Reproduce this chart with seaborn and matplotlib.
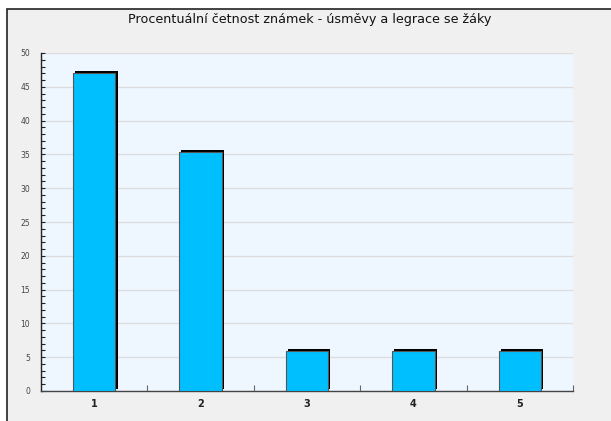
import matplotlib
matplotlib.use("Agg")
import matplotlib.pyplot as plt
import matplotlib.patheffects as pe
from matplotlib.patches import Rectangle
from matplotlib.ticker import MultipleLocator, FixedLocator, NullFormatter
import seaborn as sns
import pandas as pd

categories = ["1", "2", "3", "4", "5"]
values = [47.06, 35.29, 5.88, 5.88, 5.88]
title = "Procentuální četnost známek - úsměvy a legrace se žáky"

sns.set_style("white")
plt.rcParams['font.family'] = ['DejaVu Sans']

df = pd.DataFrame({"znamka": categories, "procenta": values})

fig = plt.figure(figsize=(6.11, 4.21), dpi=100)
fig.patch.set_facecolor("white")
# frame panel
fig.patches.append(Rectangle((7/611, -0.01), 1.0, 1 - 9/421 + 0.01, transform=fig.transFigure,
                             facecolor="#f0f0f0", edgecolor="#222222", linewidth=1.2, zorder=-5))

ax = fig.add_axes([41/611, 1 - 391/421, 532/611, 338/421])
ax.set_zorder(2)
ax.set_facecolor("#eef6ff")

sns.barplot(data=df, x="znamka", y="procenta", color="#00bfff", width=0.4,
            edgecolor="#555555", linewidth=0.8, saturation=1, ax=ax, zorder=3)
for p in ax.patches:
    p.set_path_effects([pe.SimplePatchShadow(offset=(1.5, 1.5), shadow_rgbFace="black", alpha=1.0),
                        pe.Normal()])

ax.set_xlim(-0.5, 4.5)
ax.set_ylim(0, 50)
ax.set_xlabel("")
ax.set_ylabel("")

ax.yaxis.set_major_locator(MultipleLocator(5))
ax.yaxis.set_minor_locator(MultipleLocator(1))
ax.grid(axis="y", which="major", color="#dcdcdc", linewidth=0.9, zorder=0)
ax.set_axisbelow(True)

ax.tick_params(axis="y", which="both", direction="in", length=3, width=0.8, color="#222222",
               labelsize=5.5, labelcolor="#444444", pad=8, left=True)
ax.set_xticks(range(len(categories)))
ax.set_xticklabels(categories, fontweight="bold", fontsize=7, color="#222222")
ax.tick_params(axis="x", which="major", length=0, pad=6)
ax.xaxis.set_minor_locator(FixedLocator([0.5, 1.5, 2.5, 3.5, 4.5]))
ax.xaxis.set_minor_formatter(NullFormatter())
ax.tick_params(axis="x", which="minor", direction="in", length=4, width=0.8, color="#666666", bottom=True)

for s in ["top", "right"]:
    ax.spines[s].set_visible(False)
ax.spines["left"].set_color("#222222")
ax.spines["left"].set_linewidth(1.0)
ax.spines["bottom"].set_color("#444444")
ax.spines["bottom"].set_linewidth(1.0)

fig.text(310/611, 1 - 20/421, title, ha="center", va="center", fontsize=9.2, color="#111111")

fig.savefig("out.png", dpi=100, facecolor=fig.get_facecolor())
